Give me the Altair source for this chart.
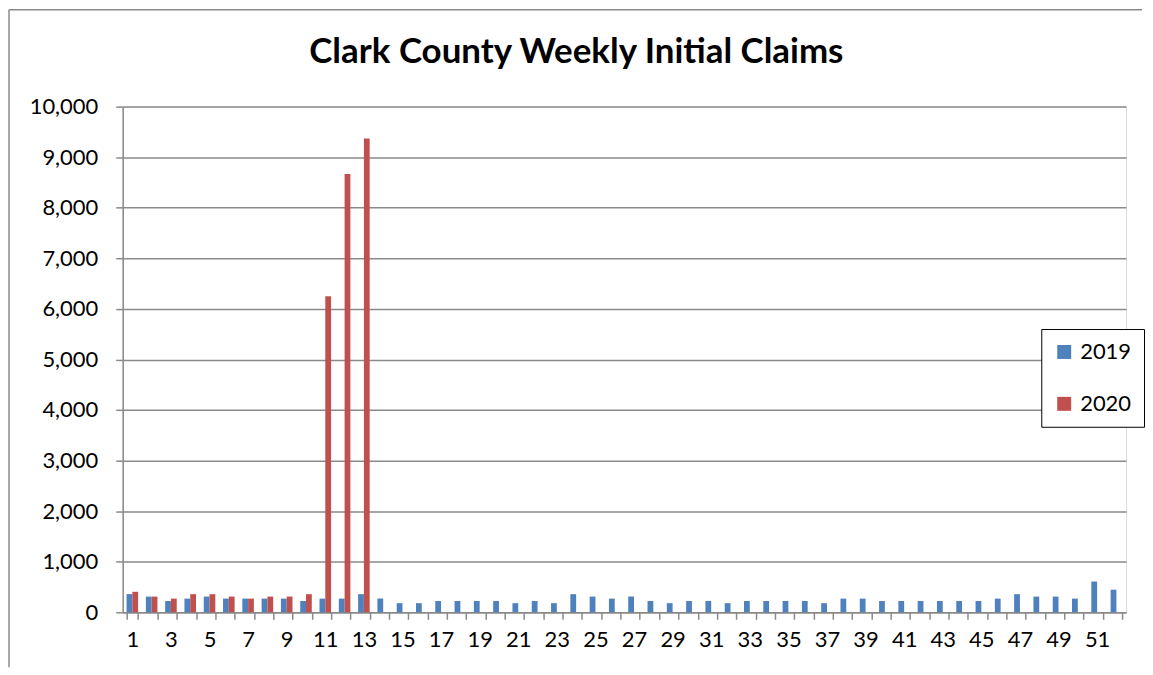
import altair as alt
import pandas as pd

weeks = list(range(1, 53))
years = ["2019", "2020"]
claims_2019 = [360, 310, 223, 270, 310, 270, 270, 270, 270, 223, 270, 270, 358,
               270, 180, 180, 223, 223, 223, 223, 180, 223, 180, 358, 310, 270, 310, 223,
               180, 223, 223, 180, 223, 223, 223, 223, 180, 270, 270, 223, 223, 223,
               223, 223, 223, 270, 358, 310, 310, 270, 608, 446]
claims_2020 = [405, 310, 270, 358, 358, 310, 270, 310, 310, 358, 6250, 8667, 9370]
y_ticks = list(range(0, 10001, 1000))

rows = []
for w, v in zip(weeks, claims_2019):
    rows.append({"week": w, "year": "2019", "claims": v})
for w, v in zip(weeks, claims_2020):
    rows.append({"week": w, "year": "2020", "claims": v})
df = pd.DataFrame(rows)

FONT = "Lato"
GRID = "#8a8a8a"

bars = alt.Chart(df).mark_bar().encode(
    x=alt.X("week:O",
            scale=alt.Scale(domain=weeks, paddingInner=0.4, paddingOuter=0.2),
            axis=alt.Axis(title=None, labelAngle=0, tickBand="extent", tickSize=7,
                          tickColor=GRID, tickWidth=1.5, domainColor=GRID, domainWidth=1.5,
                          labelFont=FONT, labelFontSize=22, labelColor="black",
                          labelPadding=10, grid=False,
                          labelExpr="datum.value % 2 == 1 ? datum.label : ''")),
    xOffset=alt.XOffset("year:N", scale=alt.Scale(domain=years)),
    y=alt.Y("claims:Q",
            scale=alt.Scale(domain=[0, 10000]),
            axis=alt.Axis(title=None, values=y_ticks, format=",d", tickSize=7,
                          tickColor=GRID, tickWidth=1.5, domainColor=GRID, domainWidth=1.5,
                          gridColor=GRID, gridWidth=1.5, labelFont=FONT, labelFontSize=22,
                          labelColor="black", labelPadding=18)),
    color=alt.Color("year:N",
                    scale=alt.Scale(domain=years, range=["#4F81BD", "#C0504D"]),
                    legend=alt.Legend(title=None, orient="none", legendX=921, legendY=223,
                                      strokeColor="black", fillColor="white", padding=12,
                                      symbolType="square", symbolSize=196,
                                      symbolStrokeWidth=0, labelFont=FONT,
                                      labelFontSize=22, labelColor="black",
                                      rowPadding=30, labelOffset=5)),
)

frame_df = pd.DataFrame({"k": [0]})
left_line = alt.Chart(frame_df).mark_rule(color=GRID, strokeWidth=1.5).encode(
    x=alt.value(-114), y=alt.value(-97), y2=alt.value(562))
top_line = alt.Chart(frame_df).mark_rule(color=GRID, strokeWidth=1.5).encode(
    x=alt.value(-114), x2=alt.value(1022), y=alt.value(-97))

chart = alt.layer(bars, left_line, top_line).properties(
    width=1006, height=507, padding=0,
    title=alt.Title("Clark County Weekly Initial Claims", font=FONT, fontSize=35,
                    fontWeight="bold", anchor="middle", frame="bounds", color="black",
                    offset=-61),
).configure_view(strokeWidth=0).configure(background="white")

chart.save("out.html", embed_options={"renderer": "svg", "actions": False})
